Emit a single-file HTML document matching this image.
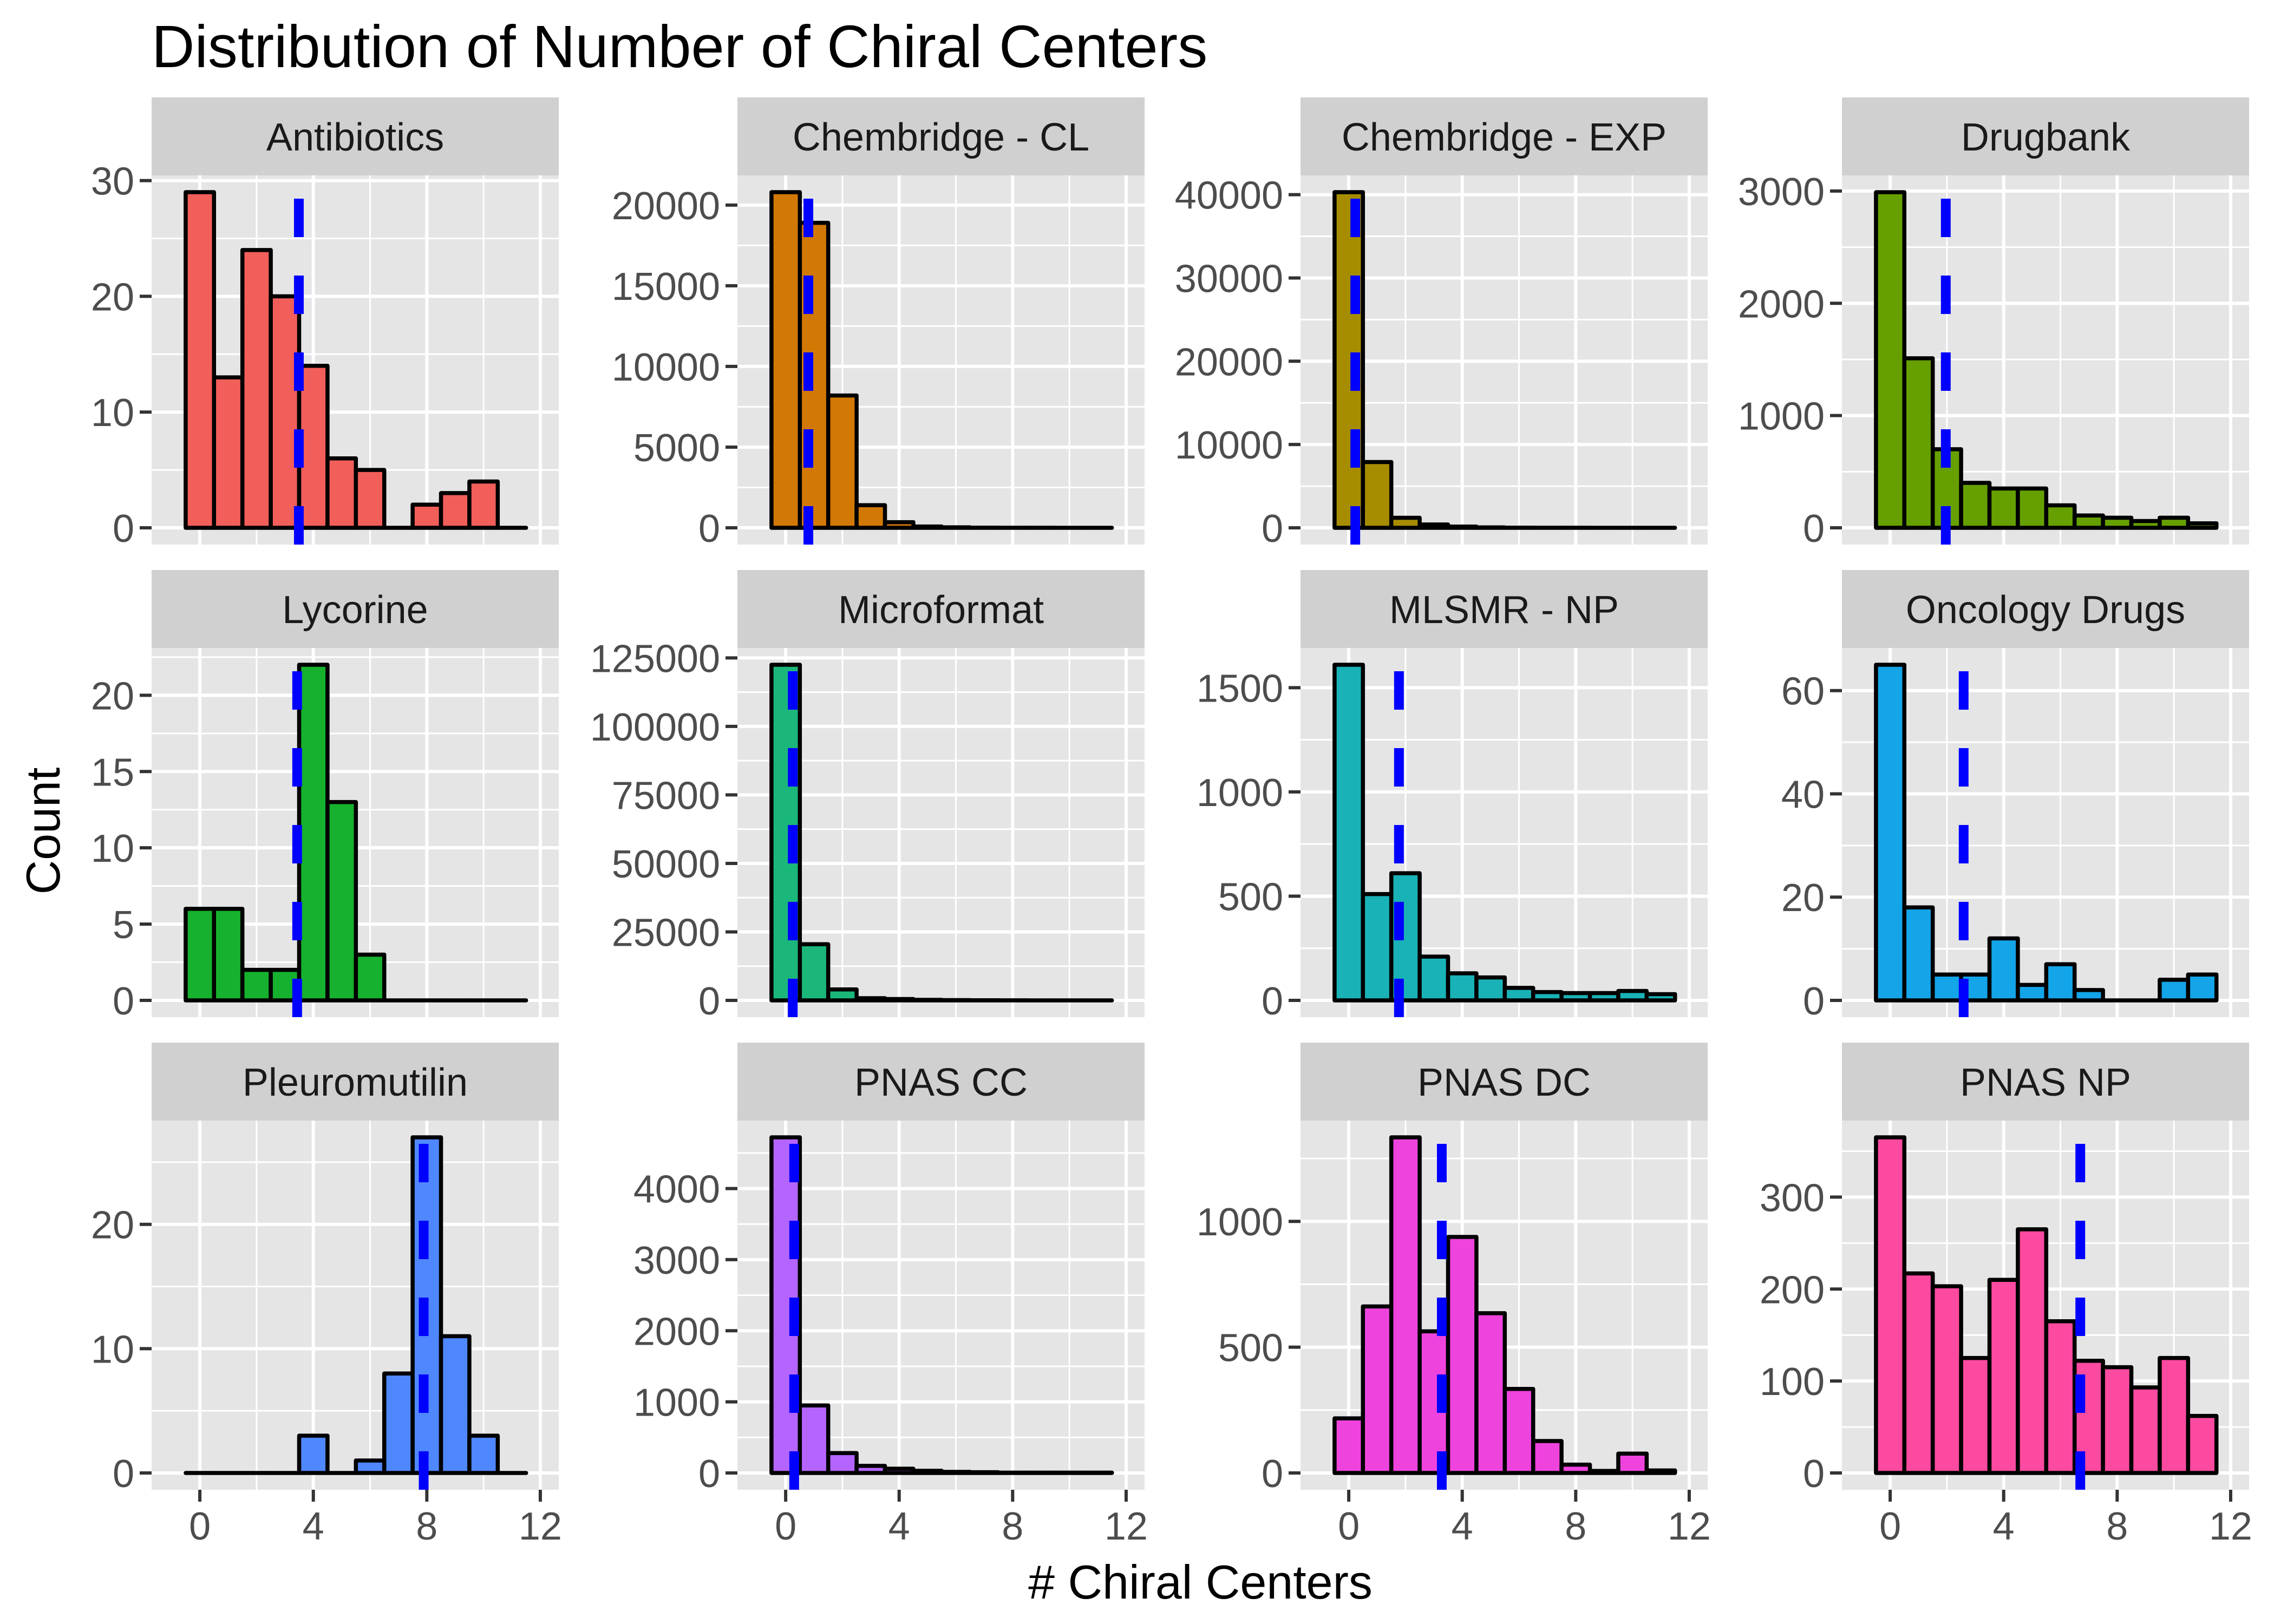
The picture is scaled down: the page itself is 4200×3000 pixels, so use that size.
<!DOCTYPE html>
<html><head><meta charset="utf-8"><style>
html,body{margin:0;padding:0;background:#fff;}
svg{display:block;font-family:"Liberation Sans",Arial,sans-serif;}
</style></head><body>
<svg id="chart" xmlns="http://www.w3.org/2000/svg" width="4200" height="3000" viewBox="0 0 4200 3000">
<rect x="0" y="0" width="4200" height="3000" fill="#fff"/>
<text x="280" y="124" font-size="110" fill="#000">Distribution of Number of Chiral Centers</text>
<text transform="translate(110,1535) rotate(-90)" text-anchor="middle" font-size="88" fill="#000">Count</text>
<text x="2217" y="2953" text-anchor="middle" font-size="88" fill="#000"># Chiral Centers</text>
<g id="panels"></g>
</svg>
<script>
const bins = [0,1,2,3,4,5,6,7,8,9,10,11];
const panelNames = ["Antibiotics","Chembridge - CL","Chembridge - EXP","Drugbank","Lycorine","Microformat","MLSMR - NP","Oncology Drugs","Pleuromutilin","PNAS CC","PNAS DC","PNAS NP"];
const countsAntibiotics = [29,13,24,20,14,6,5,0,2,3,4,0];
const countsChemCL = [20800,18900,8200,1400,350,80,30,10,5,3,2,1];
const countsChemEXP = [40300,7900,1200,400,150,50,20,10,5,3,2,1];
const countsDrugbank = [2990,1510,700,400,350,350,200,110,90,60,90,40];
const countsLycorine = [6,6,2,2,22,13,3,0,0,0,0,0];
const countsMicroformat = [122500,20500,4000,800,500,200,100,50,20,10,5,2];
const countsMLSMR = [1610,510,610,210,130,110,60,40,35,35,45,30];
const countsOncology = [65,18,5,5,12,3,7,2,0,0,4,5];
const countsPleuromutilin = [0,0,0,0,3,0,1,8,27,11,3,0];
const countsPNASCC = [4720,950,280,100,60,30,15,10,5,5,5,5];
const countsPNASDC = [217,662,1334,563,938,635,334,127,33,8,77,10];
const countsPNASNP = [365,217,203,125,210,265,165,122,115,93,125,62];
const allCounts = [countsAntibiotics,countsChemCL,countsChemEXP,countsDrugbank,countsLycorine,countsMicroformat,countsMLSMR,countsOncology,countsPleuromutilin,countsPNASCC,countsPNASDC,countsPNASNP];
const means = [3.49,0.80,0.23,1.96,3.43,0.25,1.77,2.59,7.89,0.30,3.28,6.70];
const yTicks = [[0,10,20,30],[0,5000,10000,15000,20000],[0,10000,20000,30000,40000],[0,1000,2000,3000],[0,5,10,15,20],[0,25000,50000,75000,100000,125000],[0,500,1000,1500],[0,20,40,60],[0,10,20],[0,1000,2000,3000,4000],[0,500,1000],[0,100,200,300]];
const xTicks = [0,4,8,12];
const xMinor = [2,6,10];
const colors = ["#f25e5a","#d27805","#a68d00","#66a000","#16b12e","#1bb77a","#19b2b6","#14a4e8","#4f87ff","#b565ff","#ee44dd","#fb4aa0"];

const NS = "http://www.w3.org/2000/svg";
const colLeft = [280,1362,2402,3402];
const panelW = 752;
const stripTop = [180,1053,1926];
const stripH = 144;
const panelH = 682;
const xMin = -1.7, xMax = 12.65;
const root = document.getElementById('panels');

function mk(tag, attrs, parent) {
  const e = document.createElementNS(NS, tag);
  for (const k in attrs) e.setAttribute(k, attrs[k]);
  parent.appendChild(e);
  return e;
}

panelNames.forEach((name, i) => {
  const r = Math.floor(i / 4), c = i % 4;
  const L = colLeft[c], R = L + panelW;
  const sT = stripTop[r], T = sT + stripH, B = T + panelH;
  const counts = allCounts[i];
  const maxV = Math.max(...counts);
  const yLo = -0.05 * maxV, yHi = 1.05 * maxV;
  const sx = v => L + (v - xMin) / (xMax - xMin) * panelW;
  const sy = v => B - (v - yLo) / (yHi - yLo) * panelH;

  const g = mk('g', {}, root);
  
  

  const strip = mk('rect', {x: L, y: sT, width: panelW, height: stripH, fill: '#d0d0d0'}, g);
  
  
  const st = mk('text', {x: (L + R) / 2, y: sT + stripH / 2 + 26, 'text-anchor': 'middle', 'font-size': 72, fill: '#1a1a1a'}, g);
  st.textContent = name;
  
  

  const bg = mk('rect', {x: L, y: T, width: panelW, height: panelH, fill: '#e5e5e5'}, g);
  
  

  const yt = yTicks[i];
  const step = yt[1] - yt[0];
  for (let k = -1; k < yt.length; k++) {
    const v = yt[0] + step * (k + 0.5);
    if (v > yLo && v < yHi) {
      const l = mk('line', {x1: L, x2: R, y1: sy(v), y2: sy(v), stroke: '#fff', 'stroke-width': 3}, g);
      
      
    }
  }
  xMinor.forEach(v => {
    const l = mk('line', {x1: sx(v), x2: sx(v), y1: T, y2: B, stroke: '#fff', 'stroke-width': 3}, g);
    
    
  });
  yt.forEach(v => {
    const l = mk('line', {x1: L, x2: R, y1: sy(v), y2: sy(v), stroke: '#fff', 'stroke-width': 6}, g);
    
    
    const tk = mk('line', {x1: L - 22, x2: L, y1: sy(v), y2: sy(v), stroke: '#333', 'stroke-width': 6}, g);
    
    
    const tl = mk('text', {x: L - 32, y: sy(v) + 26, 'text-anchor': 'end', 'font-size': 72, fill: '#4d4d4d'}, g);
    tl.textContent = String(v);
    
    
  });
  xTicks.forEach(v => {
    const l = mk('line', {x1: sx(v), x2: sx(v), y1: T, y2: B, stroke: '#fff', 'stroke-width': 6}, g);
    
    
    if (r === 2) {
      const tk = mk('line', {x1: sx(v), x2: sx(v), y1: B, y2: B + 22, stroke: '#333', 'stroke-width': 6}, g);
      
      
      const tl = mk('text', {x: sx(v), y: B + 92, 'text-anchor': 'middle', 'font-size': 72, fill: '#4d4d4d'}, g);
      tl.textContent = String(v);
      
      
    }
  });

  bins.forEach((b, k) => {
    const x0 = sx(b - 0.5), x1 = sx(b + 0.5), y0 = sy(0), y1 = sy(counts[k]);
    const p = mk('path', {d: `M${x0},${y0} V${y1} H${x1} V${y0} Z`, fill: colors[i], stroke: '#000', 'stroke-width': 7.5, 'stroke-linejoin': 'round'}, g);
    
    
  });

  const ml = mk('line', {x1: sx(means[i]), x2: sx(means[i]), y1: B, y2: T, stroke: '#0000ff', 'stroke-width': 18, 'stroke-dasharray': '71 71'}, g);
  
  
});
</script>
</body></html>
